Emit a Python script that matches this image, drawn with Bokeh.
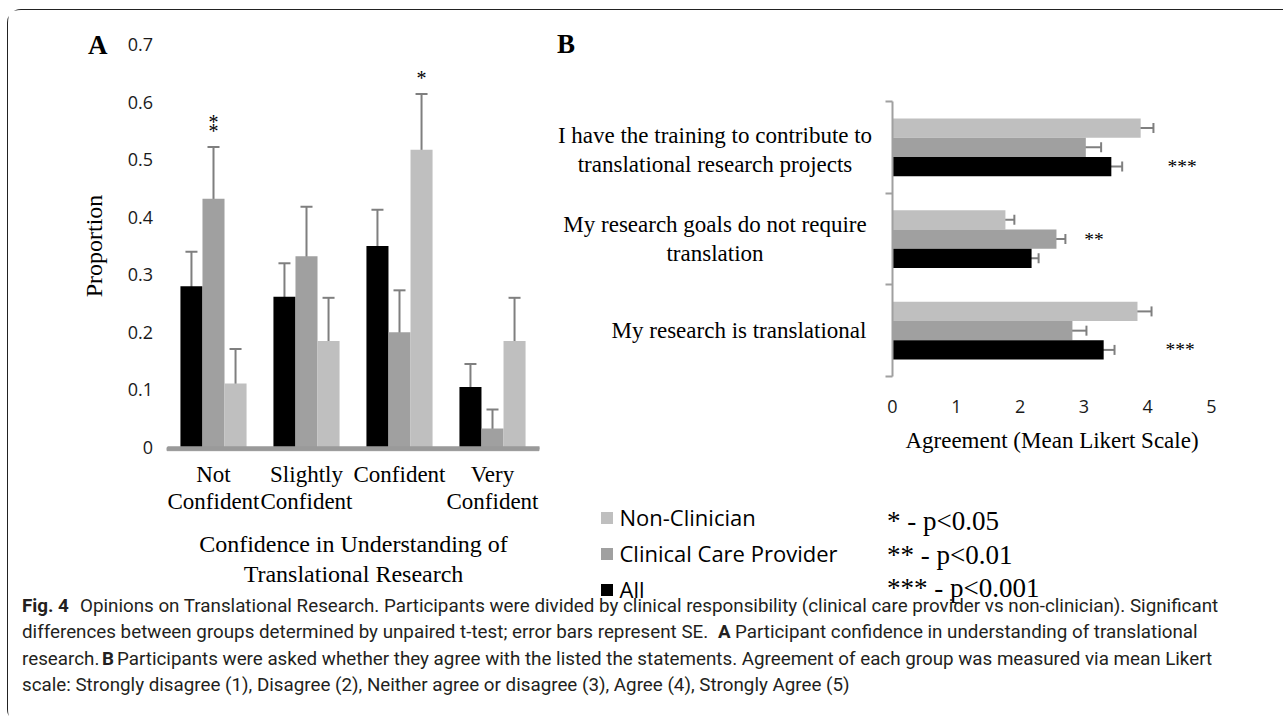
from bokeh.plotting import figure
from bokeh.models import (Range1d, FixedTicker, Whisker, TeeHead, Label, ColumnDataSource,
                          Legend, LegendItem, LinearAxis)
from bokeh.layouts import column
from bokeh.core.properties import value
from bokeh.embed import file_html
from bokeh.resources import INLINE

# ---------------- data: panel A ----------------
confidence_levels = ["Not\nConfident", "Slightly\nConfident", "Confident", "Very\nConfident"]
a_all = [0.280, 0.262, 0.350, 0.105]
a_all_se = [0.060, 0.058, 0.063, 0.040]
a_clin = [0.432, 0.332, 0.200, 0.033]
a_clin_se = [0.090, 0.086, 0.073, 0.033]
a_non = [0.111, 0.185, 0.517, 0.185]
a_non_se = [0.060, 0.075, 0.097, 0.075]
a_yticks = [0, 0.1, 0.2, 0.3, 0.4, 0.5, 0.6, 0.7]
a_sig_level = [0, 2]
a_sig_series = ["clin", "non"]
a_sig_text = ["**", "*"]

# ---------------- data: panel B ----------------
statements = ["I have the training to contribute to\ntranslational research projects",
              "My research goals do not require\ntranslation",
              "My research is translational"]
b_non = [3.89, 1.77, 3.84]
b_non_se = [0.20, 0.14, 0.22]
b_clin = [3.03, 2.57, 2.82]
b_clin_se = [0.24, 0.14, 0.22]
b_all = [3.43, 2.18, 3.31]
b_all_se = [0.17, 0.11, 0.17]
b_xticks = [0, 1, 2, 3, 4, 5]
b_sig_series = ["all", "clin", "all"]
b_sig_text = ["***", "**", "***"]

group_names = {"non": "Non-Clinician", "clin": "Clinical Care Provider", "all": "All"}
p_value_keys = ["* - p<0.05", "** - p<0.01", "*** - p<0.001"]

caption_segments = [
    [("Fig. 4", "bold"),
     ("Opinions on Translational Research. Participants were divided by clinical responsibility (clinical care provider vs non-clinician). Significant", "normal")],
    [("differences between groups determined by unpaired t-test; error bars represent SE.", "normal"),
     ("A", "bold"),
     ("Participant confidence in understanding of translational", "normal")],
    [("research.", "normal"),
     ("B", "bold"),
     ("Participants were asked whether they agree with the listed the statements. Agreement of each group was measured via mean Likert", "normal")],
    [("scale: Strongly disagree (1), Disagree (2), Neither agree or disagree (3), Agree (4), Strongly Agree (5)", "normal")],
]

# ---------------- styles / layout constants (page pixels) ----------------
COL = {"all": "#000000", "clin": "#a0a0a0", "non": "#bfbfbf"}
ERR = "#7f7f7f"
AXC = "#a0a0a0"
SERIF = "Liberation Serif"
SANS = "Open Sans"
CAPF = "Roboto"

OX, OY = 8.5, 10.5          # page position of the canvas origin (top-left)
W, H = 1275, 713            # canvas size


def rng(d0, p0, d1, p1, lo, hi):
    s = (d1 - d0) / (p1 - p0)
    return Range1d(d0 + (lo - p0) * s, d0 + (hi - p0) * s)


def cx(px):                 # page x -> canvas screen x
    return px - OX


def cy(py):                 # page y -> canvas screen y (from bottom)
    return H - (py - OY)


# Panel A mapping: category 0 at x=213.5, 93 px per category; 0 at y=447.5, 0.7 at y=44.5
ax_rng = rng(0, 213.5, 1, 306.5, OX, OX + W)
ay_rng = rng(0, 447.5, 0.7, 44.5, OY + H, OY)
# Panel B mapping: 0 at x=892.5, 5 at x=1211.5; -0.5 at y=376.5, 2.5 at y=101.5
bx_rng = rng(0, 892.5, 5, 1211.5, OX, OX + W)
by_rng = rng(-0.5, 376.5, 2.5, 101.5, OY + H, OY)

p = figure(width=W, height=H, min_border=0, x_range=bx_rng, y_range=by_rng,
           x_axis_location=None, y_axis_location=None,
           output_backend="svg", toolbar_location=None)
p.extra_x_ranges = {"ax": ax_rng}
p.extra_y_ranges = {"ay": ay_rng}
p.grid.visible = False
p.outline_line_color = None

# ================= Panel A =================
nA = len(confidence_levels)
bw = 0.237
offA = {"all": -bw, "clin": 0.0, "non": bw}
seriesA = {"all": (a_all, a_all_se), "clin": (a_clin, a_clin_se), "non": (a_non, a_non_se)}

for key in ["all", "clin", "non"]:
    vals, se = seriesA[key]
    xs = [i + offA[key] for i in range(nA)]
    src = ColumnDataSource(dict(x=xs, top=vals,
                                upper=[v + s for v, s in zip(vals, se)],
                                lower=[v - s for v, s in zip(vals, se)]))
    p.vbar(x="x", top="top", width=bw, bottom=0, source=src, fill_color=COL[key], line_color=None,
           x_range_name="ax", y_range_name="ay")
    p.add_layout(Whisker(source=src, base="x", upper="upper", lower="lower",
                         x_range_name="ax", y_range_name="ay",
                         line_color=ERR, line_width=2,
                         upper_head=TeeHead(size=12, line_color=ERR, line_width=2),
                         lower_head=TeeHead(size=12, line_color=ERR, line_width=2)))

# category baseline of panel A (horizontal axis line across all categories)
p.quad(left=[-0.5], right=[nA - 0.5], bottom=[-0.0055], top=[0.0], fill_color="#9a9a9a",
       line_color="#9a9a9a", line_width=1, x_range_name="ax", y_range_name="ay")

for lvl, key, txt in zip(a_sig_level, a_sig_series, a_sig_text):
    vals, se = seriesA[key]
    top = vals[lvl] + se[lvl] + 0.033
    n = len(txt)
    p.text(x=[lvl + offA[key]] * n, y=[top] * n, text=["*"] * n,
           y_offset=[3 - 9 * k for k in range(n)],
           x_range_name="ax", y_range_name="ay",
           text_font=value(SERIF), text_font_size="20px", text_align="center",
           text_baseline="middle", text_color="#000000")

xa = LinearAxis(x_range_name="ax", y_range_name="ay", fixed_location=0, bounds=(-0.5, nA - 0.5),
                ticker=FixedTicker(ticks=list(range(nA))))
xa.major_label_overrides = {i: lbl for i, lbl in enumerate(confidence_levels)}
xa.axis_line_color = "#9a9a9a"
xa.axis_line_width = 2.5
xa.major_tick_line_color = None
xa.minor_tick_line_color = None
xa.major_tick_out = 0
xa.major_tick_in = 0
xa.major_label_standoff = 14
xa.major_label_text_font = SERIF
xa.major_label_text_font_size = "23px"
xa.major_label_text_line_height = 1.1
xa.major_label_text_color = "#000000"
xa.axis_label = "Confidence in Understanding of\nTranslational Research"
xa.axis_label_text_font = SERIF
xa.axis_label_text_font_size = "24px"
xa.axis_label_text_font_style = "normal"
xa.axis_label_text_line_height = 1.15
xa.axis_label_text_color = "#000000"
xa.axis_label_standoff = 14
p.add_layout(xa, "below")

ya = LinearAxis(x_range_name="ax", y_range_name="ay", fixed_location=-0.5, bounds=(0, 0.7),
                ticker=FixedTicker(ticks=a_yticks))
ya.major_label_overrides = {0: "0"}
ya.axis_line_color = None
ya.major_tick_line_color = None
ya.minor_tick_line_color = None
ya.major_tick_out = 0
ya.major_tick_in = 0
ya.major_label_standoff = 14
ya.major_label_text_font = SANS
ya.major_label_text_font_size = "18px"
ya.major_label_text_color = "#1a1a1a"
ya.axis_label = "Proportion"
ya.axis_label_text_font = SERIF
ya.axis_label_text_font_size = "24px"
ya.axis_label_text_font_style = "normal"
ya.axis_label_text_color = "#000000"
ya.axis_label_standoff = 18
p.add_layout(ya, "left")

p.add_layout(Label(x=cx(88), y=cy(45), x_units="screen", y_units="screen", text="A",
                   text_font=SERIF, text_font_style="bold", text_font_size="27px",
                   text_baseline="alphabetic", text_color="#000000"))

# ================= Panel B =================
bh = 0.21
offB = {"non": bh, "clin": 0.0, "all": -bh}
seriesB = {"non": (b_non, b_non_se), "clin": (b_clin, b_clin_se), "all": (b_all, b_all_se)}
nS = len(statements)
rendB = {}
for key in ["non", "clin", "all"]:
    vals, se = seriesB[key]
    ys = [(nS - 1 - i) + offB[key] for i in range(nS)]
    src = ColumnDataSource(dict(y=ys, right=vals,
                                upper=[v + s for v, s in zip(vals, se)],
                                lower=[v - s for v, s in zip(vals, se)]))
    rendB[key] = p.hbar(y="y", right="right", left=0, height=bh, source=src,
                        fill_color=COL[key], line_color=None)
    p.add_layout(Whisker(source=src, base="y", upper="upper", lower="lower", dimension="width",
                         line_color=ERR, line_width=2,
                         upper_head=TeeHead(size=10, line_color=ERR, line_width=2),
                         lower_head=TeeHead(size=10, line_color=ERR, line_width=2)))

sig_x, sig_y = [], []
for i, key in enumerate(b_sig_series):
    ends = [seriesB[k][0][i] + seriesB[k][1][i] for k in seriesB]
    sig_x.append(max(ends) + 0.45)
    sig_y.append((nS - 1 - i) + offB[key])
p.text(x=sig_x, y=sig_y, text=b_sig_text, y_offset=0,
       text_font=value(SERIF), text_font_size="19.5px", text_align="center",
       text_baseline="middle", text_color="#000000")

# category labels of panel B (lines centred within each label, as in the original)
label_centre_px = [715, 715, 739]
p.text(x=[0] * nS, y=[nS - 1 - i for i in range(nS)], text=statements,
       x_offset=[c - 892.5 for c in label_centre_px], y_offset=[3, 0, 0],
       text_font=value(SERIF), text_font_size="23px", text_align="center",
       text_baseline="middle", text_line_height=1.15, text_color="#000000")

yb = LinearAxis(fixed_location=0, bounds=(-0.5, nS - 0.5),
                ticker=FixedTicker(ticks=[], minor_ticks=[-0.5 + k for k in range(nS + 1)]))
yb.major_tick_line_color = None
yb.major_label_text_font_size = "0px"
yb.minor_tick_line_color = AXC
yb.minor_tick_line_width = 2
yb.minor_tick_out = 7
yb.minor_tick_in = 0
yb.axis_line_color = AXC
yb.axis_line_width = 2
p.add_layout(yb, "left")

xb = LinearAxis(fixed_location=-0.5, bounds=(0, 5), ticker=FixedTicker(ticks=b_xticks))
xb.axis_line_color = None
xb.major_tick_line_color = None
xb.minor_tick_line_color = None
xb.major_tick_out = 0
xb.major_tick_in = 0
xb.major_label_standoff = 23
xb.major_label_text_font = SANS
xb.major_label_text_font_size = "18px"
xb.major_label_text_color = "#1a1a1a"
xb.axis_label = "Agreement (Mean Likert Scale)"
xb.axis_label_text_font = SERIF
xb.axis_label_text_font_size = "23px"
xb.axis_label_text_font_style = "normal"
xb.axis_label_text_color = "#000000"
xb.axis_label_standoff = 12
p.add_layout(xb, "below")

p.add_layout(Label(x=cx(557), y=cy(44), x_units="screen", y_units="screen", text="B",
                   text_font=SERIF, text_font_style="bold", text_font_size="27px",
                   text_baseline="alphabetic", text_color="#000000"))

leg = Legend(items=[LegendItem(label=group_names[k], renderers=[rendB[k]]) for k in ["non", "clin", "all"]],
             location=(cx(599), cy(604.5)))
leg.border_line_color = None
leg.background_fill_alpha = 0
leg.padding = 0
leg.margin = 0
leg.spacing = 6
leg.glyph_width = 15
leg.glyph_height = 15
leg.label_standoff = 6
leg.label_text_font = SANS
leg.label_text_font_size = "22px"
leg.label_text_color = "#000000"
p.add_layout(leg)

for k, txt in enumerate(p_value_keys):
    p.add_layout(Label(x=cx(887), y=cy(521 + 33.5 * k), x_units="screen", y_units="screen", text=txt,
                       text_font=SERIF, text_font_size="27px", text_baseline="middle",
                       text_color="#000000"))

# ================= Caption =================
cap_y = [606, 632, 659, 685]
cap_x = [[22, 80], [22, 718, 735], [22, 102, 117], [22]]
for line, yy, xs in zip(caption_segments, cap_y, cap_x):
    for (txt, style), xx in zip(line, xs):
        p.add_layout(Label(x=cx(xx), y=cy(yy), x_units="screen", y_units="screen", text=txt,
                           text_font=CAPF, text_font_style=style, text_font_size="18.8px",
                           text_baseline="middle", text_color="#231f20"))

layout = column(p, styles={"margin-left": "7px", "margin-top": "9px",
                           "border-top": "1.5px solid #222222", "border-left": "1.5px solid #222222",
                           "border-top-left-radius": "14px", "border-bottom-left-radius": "14px"})

open("out.html", "w").write(file_html(layout, INLINE))
